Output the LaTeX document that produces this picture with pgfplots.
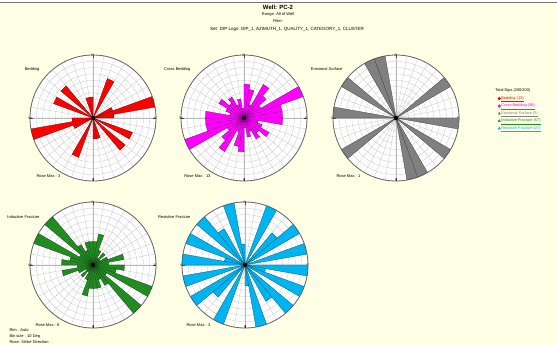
\documentclass[border=0pt]{standalone}
\usepackage{fontspec}
\setmainfont{Liberation Sans}
\usepackage{pgfplots}
\pgfplotsset{compat=1.18}
\usepgfplotslibrary{polar}
\definecolor{bg}{RGB}{255,255,230}
\definecolor{cbed}{RGB}{255,0,0}
\definecolor{ccross}{RGB}{255,0,255}
\definecolor{cero}{RGB}{128,128,128}
\definecolor{cind}{RGB}{34,139,34}
\definecolor{cres}{RGB}{0,180,240}
\newcommand{\fs}[1]{\fontsize{#1}{#1}\selectfont}
% one bin and its opposite bin (strike rose): colour, a1, a2, b1, b2, count
\newcommand{\rb}[6]{\addplot[fill=#1, draw=#1!50!black, line width=0.25pt, forget plot] coordinates {(#2,0) (#2,#6) (#3,#6) (#3,0) (#4,#6) (#5,#6)} -- cycle;}
\pgfplotsset{rose/.style={
  scale only axis, width=126pt, height=126pt, anchor=center,
  xmin=0, xmax=360, ymin=0,
  xtick={0,10,...,350}, xticklabels={},
  yticklabels={}, major tick length=0pt,
  grid=major, major grid style={black!28, line width=0.2pt},
  axis line style={black!60, line width=0.8pt},
  axis background/.style={fill=white},
  x filter/.expression={90-x},
  extra x ticks={0,90,180,270}, extra x tick labels={E,N,W,S},
  extra x tick style={major tick length=3pt, tick align=outside, tick style={black!70, line width=0.4pt}},
  ticklabel style={font=\fs{3.5}, inner sep=1.2pt},
}}
\begin{document}
\begin{tikzpicture}[x=1pt,y=1pt]
\path[use as bounding box] (0,0) rectangle (557,345);
\fill[bg] (0,0) rectangle (557,343);
\draw[black!55, line width=0.6pt] (0,343) -- (557,343);

\node[font=\bfseries\fs{6}] at (278,338) {Well: PC-2};
\node[font=\fs{4}] at (278,330.5) {Range: All of Well};
\node[font=\fs{4}] at (278,324) {Filter:};
\node[font=\fs{4.5}] at (287,315.5) {Set: DIP Logs: DIP\_1, AZIMUTH\_1, QUALITY\_1, CATEGORY\_1, CLUSTER};

% ---------- Bedding ----------
\begin{polaraxis}[rose, at={(93pt,227pt)}, ymax=3, ytick={0.3,0.6,...,3}]
\rb{cbed}{20}{30}{200}{210}{2}
\rb{cbed}{60}{70}{240}{250}{1}
\rb{cbed}{70}{80}{250}{260}{3}
\rb{cbed}{80}{90}{260}{270}{1}
\rb{cbed}{110}{120}{290}{300}{2}
\rb{cbed}{130}{140}{310}{320}{2}
\rb{cbed}{160}{170}{340}{350}{1}
\rb{cbed}{170}{180}{350}{360}{1}
\addplot[only marks, mark=*, mark size=2pt, black, forget plot] coordinates {(0,0)};
\end{polaraxis}
\node[anchor=east, font=\fs{4}] at (43,276) {Bedding};
\node[anchor=east, font=\fs{4}] at (64,169) {Rose Max : 3};

% ---------- Cross Bedding ----------
\begin{polaraxis}[rose, at={(244pt,227pt)}, ymax=13, ytick={1.3,2.6,...,13}]
\rb{ccross}{0}{10}{180}{190}{7}
\rb{ccross}{10}{20}{190}{200}{6}
\rb{ccross}{20}{30}{200}{210}{3}
\rb{ccross}{30}{40}{210}{220}{8}
\rb{ccross}{40}{50}{220}{230}{6}
\rb{ccross}{50}{60}{230}{240}{4}
\rb{ccross}{60}{70}{240}{250}{13}
\rb{ccross}{70}{80}{250}{260}{8}
\rb{ccross}{80}{90}{260}{270}{8}
\rb{ccross}{90}{100}{270}{280}{8}
\rb{ccross}{100}{110}{280}{290}{3}
\rb{ccross}{110}{120}{290}{300}{4}
\rb{ccross}{120}{130}{300}{310}{6}
\rb{ccross}{130}{140}{310}{320}{4}
\rb{ccross}{140}{150}{320}{330}{5}
\rb{ccross}{150}{160}{330}{340}{3}
\rb{ccross}{160}{170}{340}{350}{4}
\rb{ccross}{170}{180}{350}{360}{2}
\addplot[only marks, mark=*, mark size=2pt, black, forget plot] coordinates {(0,0)};
\end{polaraxis}
\node[anchor=east, font=\fs{4}] at (194,276) {Cross Bedding};
\node[anchor=east, font=\fs{4}] at (214,169) {Rose Max : 13};

% ---------- Erosional Surface ----------
\begin{polaraxis}[rose, at={(396pt,227pt)}, ymax=1, ytick={0.1,0.2,...,1},
  legend style={at={(1.25,0.74)}, anchor=north west, draw=none, fill=none,
    font=\fs{3.9}, row sep=1.6pt, inner sep=0pt, nodes={inner sep=0.8pt}},
  legend cell align=left]
\rb{cero}{50}{60}{230}{240}{1}
\rb{cero}{90}{100}{270}{280}{1}
\rb{cero}{120}{130}{300}{310}{1}
\rb{cero}{150}{160}{330}{340}{1}
\rb{cero}{160}{170}{340}{350}{1}
\addplot[only marks, mark=*, mark size=2pt, black, forget plot] coordinates {(0,0)};
\addlegendimage{empty legend}
\addlegendentry{\hspace{-6pt}Total Dips (200/200)\rule[-3pt]{0pt}{0pt}}
\addlegendimage{only marks, mark=*, mark size=1.3pt, cbed}
\addlegendentry{\textcolor{cbed}{\underline{Bedding (13)}}}
\addlegendimage{only marks, mark=*, mark size=1.3pt, ccross}
\addlegendentry{\textcolor{ccross}{\underline{Cross Bedding (98)}}}
\addlegendimage{only marks, mark=*, mark size=1.2pt, cero}
\addlegendentry{\textcolor{cero}{\underline{Erosional Surface (5)}}}
\addlegendimage{only marks, mark=triangle*, mark size=1.4pt, cind}
\addlegendentry{\textcolor{cind}{\underline{Inductive Fracture (57)}}}
\addlegendimage{only marks, mark=triangle*, mark size=1.4pt, cres}
\addlegendentry{\textcolor{cres}{\underline{Resistive Fracture (27)}}}
\end{polaraxis}
\node[anchor=east, font=\fs{4}] at (346,276) {Erosional Surface};
\node[anchor=east, font=\fs{4}] at (364,169) {Rose Max : 1};

% ---------- Inductive Fracture ----------
\begin{polaraxis}[rose, at={(93pt,80pt)}, ymax=8, ytick={0.8,1.6,...,8}]
\rb{cind}{0}{10}{180}{190}{3}
\rb{cind}{10}{20}{190}{200}{4}
\rb{cind}{20}{30}{200}{210}{2}
\rb{cind}{30}{40}{210}{220}{1}
\rb{cind}{40}{50}{220}{230}{2}
\rb{cind}{50}{60}{230}{240}{1}
\rb{cind}{60}{70}{240}{250}{2}
\rb{cind}{70}{80}{250}{260}{4}
\rb{cind}{80}{90}{260}{270}{2}
\rb{cind}{90}{100}{270}{280}{4}
\rb{cind}{100}{110}{280}{290}{3}
\rb{cind}{110}{120}{290}{300}{8}
\rb{cind}{120}{130}{300}{310}{2}
\rb{cind}{130}{140}{310}{320}{8}
\rb{cind}{140}{150}{320}{330}{3}
\rb{cind}{150}{160}{330}{340}{2}
\rb{cind}{160}{170}{340}{350}{3}
\rb{cind}{170}{180}{350}{360}{3}
\addplot[only marks, mark=*, mark size=2pt, black, forget plot] coordinates {(0,0)};
\end{polaraxis}
\node[anchor=east, font=\fs{4}] at (43,128) {Inductive Fracture};
\node[anchor=east, font=\fs{4}] at (63,20) {Rose Max : 8};

% ---------- Resistive Fracture ----------
\begin{polaraxis}[rose, at={(245pt,80pt)}, ymax=3, ytick={0.3,0.6,...,3}]
\rb{cres}{20}{30}{200}{210}{3}
\rb{cres}{40}{50}{220}{230}{2}
\rb{cres}{50}{60}{230}{240}{3}
\rb{cres}{70}{80}{250}{260}{3}
\rb{cres}{90}{100}{270}{280}{3}
\rb{cres}{100}{110}{280}{290}{1}
\rb{cres}{110}{120}{290}{300}{3}
\rb{cres}{130}{140}{310}{320}{3}
\rb{cres}{140}{150}{320}{330}{2}
\rb{cres}{160}{170}{340}{350}{3}
\rb{cres}{170}{180}{350}{360}{1}
\addplot[only marks, mark=*, mark size=2pt, black, forget plot] coordinates {(0,0)};
\end{polaraxis}
\node[anchor=east, font=\fs{4}] at (194,128) {Resistive Fracture};
\node[anchor=east, font=\fs{4}] at (214,20) {Rose Max : 3};

\node[anchor=west, font=\fs{4}] at (6,15) {Rim : Auto};
\node[anchor=west, font=\fs{4}] at (6,9) {Bin size : 10 Deg};
\node[anchor=west, font=\fs{4}] at (6,3) {Rose: Strike Direction};
\end{tikzpicture}
\end{document}
